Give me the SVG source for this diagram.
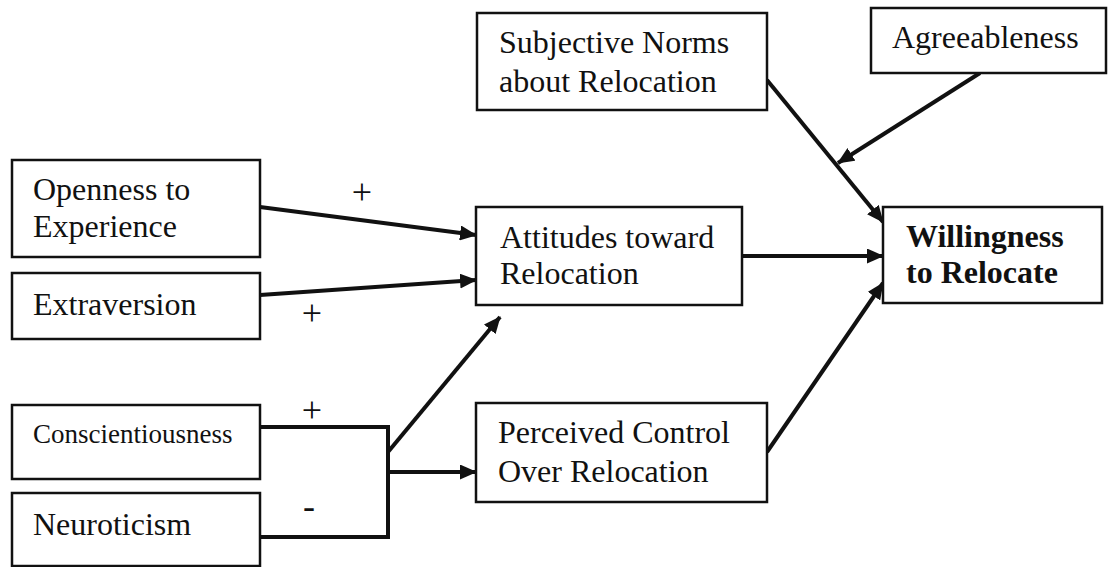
<svg xmlns="http://www.w3.org/2000/svg" width="1108" height="567" viewBox="0 0 1108 567">
<style>
.box{fill:#fff;stroke:#111;stroke-width:2.5}
.t{font-family:"Liberation Serif","Times New Roman",serif;font-size:32px;fill:#111}
.b{font-weight:bold}
.s{font-size:27px}
.c{fill:none;stroke:#111;stroke-width:4;stroke-linejoin:miter}
.sign{font-family:"Liberation Serif","Times New Roman",serif;font-size:36px;fill:#111;text-anchor:middle}
</style>
<defs>
<marker id="ah" markerUnits="userSpaceOnUse" markerWidth="17" markerHeight="15" refX="16" refY="7.5" orient="auto">
<path d="M0,0 L17,7.5 L0,15 z" fill="#111"/>
</marker>
</defs>
<rect width="1108" height="567" fill="#fff"/>
<g id="connectors">
<line class="c" x1="260" y1="207" x2="476" y2="235" marker-end="url(#ah)"/>
<line class="c" x1="260" y1="295" x2="476" y2="280" marker-end="url(#ah)"/>
<polyline class="c" points="260,427 388,427 388,537 260,537"/>
<line class="c" x1="388" y1="452" x2="500" y2="317" marker-end="url(#ah)"/>
<line class="c" x1="388" y1="472" x2="476" y2="472" marker-end="url(#ah)"/>
<line class="c" x1="742" y1="256" x2="883" y2="256" marker-end="url(#ah)"/>
<line class="c" x1="767" y1="452" x2="883" y2="283" marker-end="url(#ah)"/>
<line class="c" x1="767" y1="80" x2="883" y2="222" marker-end="url(#ah)"/>
<line class="c" x1="980" y1="73" x2="838" y2="163" marker-end="url(#ah)"/>
<text class="sign" x="362" y="204">+</text>
<text class="sign" x="312" y="325">+</text>
<text class="sign" x="312" y="422">+</text>
<text class="sign" x="309" y="518">-</text>
</g>
<g id="openness">
<rect class="box" x="12" y="160" width="248" height="97"/>
<text class="t" x="33" y="200">Openness to</text>
<text class="t" x="33" y="237">Experience</text>
</g>
<g id="extraversion">
<rect class="box" x="12" y="273" width="248" height="66"/>
<text class="t" x="33" y="315">Extraversion</text>
</g>
<g id="conscientiousness">
<rect class="box" x="12" y="405" width="248" height="74"/>
<text class="t s" x="33" y="443">Conscientiousness</text>
</g>
<g id="neuroticism">
<rect class="box" x="12" y="493" width="248" height="73"/>
<text class="t" x="33" y="535">Neuroticism</text>
</g>
<g id="subjective-norms">
<rect class="box" x="477" y="13" width="290" height="97"/>
<text class="t" x="499" y="53">Subjective Norms</text>
<text class="t" x="499" y="92">about Relocation</text>
</g>
<g id="agreeableness">
<rect class="box" x="871" y="8" width="235" height="65"/>
<text class="t" x="892" y="48">Agreeableness</text>
</g>
<g id="attitudes">
<rect class="box" x="476" y="207" width="266" height="98"/>
<text class="t" x="500" y="248">Attitudes toward</text>
<text class="t" x="500" y="284">Relocation</text>
</g>
<g id="perceived-control">
<rect class="box" x="476" y="403" width="291" height="99"/>
<text class="t" x="498" y="443">Perceived Control</text>
<text class="t" x="498" y="482">Over Relocation</text>
</g>
<g id="willingness">
<rect class="box" x="883" y="207" width="219" height="96"/>
<text class="t b" x="906" y="247">Willingness</text>
<text class="t b" x="906" y="283">to Relocate</text>
</g>
</svg>
